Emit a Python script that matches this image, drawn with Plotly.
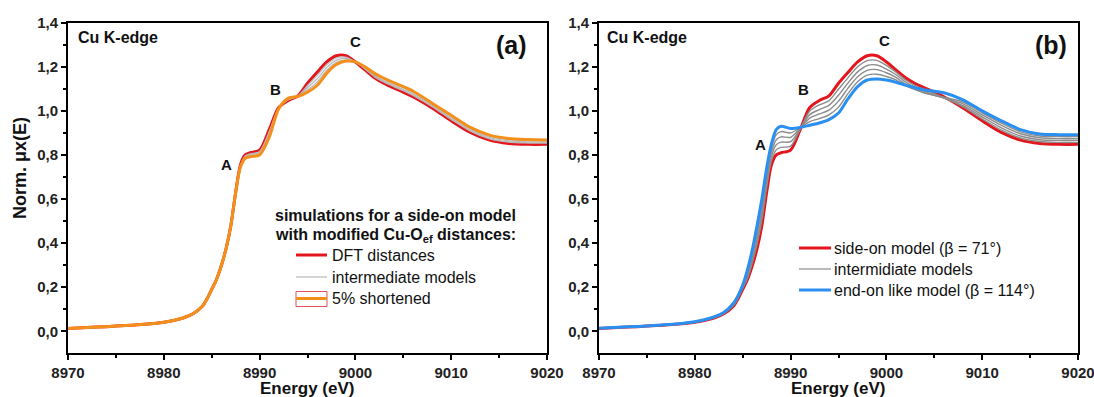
import plotly.graph_objects as go

# ---------------- data ----------------
energy = [8970, 8972, 8974, 8976, 8978, 8980, 8981, 8982, 8983, 8984, 8984.5, 8985,
          8985.5, 8986, 8986.5, 8987, 8987.5, 8988, 8988.5, 8989, 8990, 8991, 8992,
          8993, 8994, 8995, 8996, 8997, 8998, 8999, 9000, 9001, 9002, 9003, 9004, 9005, 9006,
          9008, 9010, 9012, 9014, 9016, 9018, 9020]

# side-on model, DFT distances (red)
side_on = [0.013, 0.017, 0.021, 0.026, 0.032, 0.041, 0.049, 0.060, 0.078, 0.112, 0.146, 0.190,
           0.235, 0.297, 0.375, 0.480, 0.630, 0.755, 0.800, 0.810, 0.822, 0.915, 1.015,
           1.047, 1.068, 1.125, 1.175, 1.222, 1.250, 1.250, 1.222, 1.186, 1.150, 1.124, 1.104,
           1.085, 1.064, 1.013, 0.955, 0.902, 0.867, 0.852, 0.848, 0.848]

# 5% shortened (orange)
shortened = [0.013, 0.017, 0.021, 0.026, 0.032, 0.041, 0.049, 0.060, 0.078, 0.112, 0.146, 0.190,
             0.235, 0.297, 0.375, 0.480, 0.630, 0.745, 0.785, 0.792, 0.800, 0.880, 1.010,
             1.058, 1.065, 1.085, 1.115, 1.170, 1.210, 1.226, 1.222, 1.200, 1.170, 1.148, 1.128,
             1.110, 1.090, 1.035, 0.980, 0.925, 0.890, 0.875, 0.870, 0.868]

# intermediate models, panel (a)
inter_a1 = [0.013, 0.017, 0.021, 0.026, 0.032, 0.041, 0.049, 0.060, 0.078, 0.112, 0.146, 0.190,
            0.235, 0.297, 0.375, 0.480, 0.630, 0.752, 0.796, 0.805, 0.816, 0.906, 1.014,
            1.050, 1.067, 1.115, 1.160, 1.209, 1.240, 1.244, 1.222, 1.190, 1.154, 1.130, 1.110,
            1.091, 1.070, 1.019, 0.961, 0.908, 0.873, 0.858, 0.854, 0.853]
inter_a2 = [0.013, 0.017, 0.021, 0.026, 0.032, 0.041, 0.049, 0.060, 0.078, 0.112, 0.146, 0.190,
            0.235, 0.297, 0.375, 0.480, 0.630, 0.750, 0.792, 0.801, 0.811, 0.897, 1.012,
            1.052, 1.066, 1.105, 1.145, 1.196, 1.230, 1.238, 1.222, 1.193, 1.159, 1.136, 1.116,
            1.097, 1.077, 1.024, 0.968, 0.914, 0.879, 0.864, 0.859, 0.858]
inter_a3 = [0.013, 0.017, 0.021, 0.026, 0.032, 0.041, 0.049, 0.060, 0.078, 0.112, 0.146, 0.190,
            0.235, 0.297, 0.375, 0.480, 0.630, 0.747, 0.789, 0.796, 0.805, 0.889, 1.011,
            1.055, 1.066, 1.095, 1.130, 1.183, 1.220, 1.232, 1.222, 1.197, 1.165, 1.142, 1.122,
            1.104, 1.083, 1.030, 0.974, 0.919, 0.884, 0.869, 0.865, 0.863]

# end-on like model (blue)
end_on = [0.014, 0.018, 0.022, 0.027, 0.033, 0.043, 0.052, 0.065, 0.085, 0.125, 0.160, 0.210,
          0.280, 0.370, 0.480, 0.600, 0.740, 0.850, 0.915, 0.930, 0.920, 0.925, 0.935,
          0.945, 0.960, 0.990, 1.055, 1.110, 1.140, 1.145, 1.140, 1.130, 1.117, 1.105, 1.095,
          1.089, 1.082, 1.050, 1.000, 0.955, 0.915, 0.895, 0.892, 0.892]

# intermediate models, panel (b)
inter_b1 = [0.013, 0.017, 0.021, 0.026, 0.032, 0.041, 0.050, 0.061, 0.079, 0.115, 0.149, 0.194,
            0.240, 0.310, 0.396, 0.504, 0.652, 0.774, 0.823, 0.834, 0.840, 0.917, 0.999,
            1.027, 1.046, 1.098, 1.151, 1.200, 1.228, 1.229, 1.206, 1.175, 1.140, 1.115, 1.095,
            1.078, 1.060, 1.018, 0.964, 0.913, 0.877, 0.861, 0.857, 0.857]
inter_b2 = [0.013, 0.017, 0.021, 0.026, 0.032, 0.042, 0.050, 0.062, 0.081, 0.117, 0.152, 0.198,
            0.250, 0.326, 0.417, 0.528, 0.674, 0.793, 0.846, 0.858, 0.860, 0.919, 0.983,
            1.006, 1.025, 1.071, 1.127, 1.177, 1.206, 1.208, 1.189, 1.164, 1.130, 1.107, 1.088,
            1.072, 1.058, 1.024, 0.973, 0.923, 0.886, 0.869, 0.866, 0.866]
inter_b3 = [0.014, 0.018, 0.022, 0.027, 0.033, 0.042, 0.051, 0.063, 0.082, 0.120, 0.154, 0.202,
            0.260, 0.340, 0.438, 0.552, 0.696, 0.812, 0.869, 0.882, 0.880, 0.921, 0.967,
            0.986, 1.003, 1.044, 1.103, 1.155, 1.184, 1.187, 1.173, 1.152, 1.120, 1.100, 1.083,
            1.070, 1.058, 1.032, 0.982, 0.934, 0.896, 0.878, 0.874, 0.874]
inter_b4 = [0.014, 0.018, 0.022, 0.027, 0.033, 0.043, 0.052, 0.064, 0.084, 0.122, 0.157, 0.206,
            0.270, 0.355, 0.459, 0.576, 0.718, 0.831, 0.892, 0.906, 0.900, 0.923, 0.951,
            0.965, 0.982, 1.017, 1.079, 1.132, 1.162, 1.166, 1.156, 1.141, 1.115, 1.096, 1.080,
            1.071, 1.062, 1.040, 0.991, 0.944, 0.905, 0.886, 0.883, 0.883]

x_tick_vals = [8970, 8980, 8990, 9000, 9010, 9020]
x_tick_text = ["8970", "8980", "8990", "9000", "9010", "9020"]
y_tick_vals = [0.0, 0.2, 0.4, 0.6, 0.8, 1.0, 1.2, 1.4]
y_tick_text = ["0,0", "0,2", "0,4", "0,6", "0,8", "1,0", "1,2", "1,4"]
x_minor = [8975, 8985, 8995, 9005, 9015]
y_minor = [0.1, 0.3, 0.5, 0.7, 0.9, 1.1, 1.3]

# ---------------- styling ----------------
W, H = 1094, 397
FONT = "Liberation Sans, Arial, sans-serif"
RED = "#e3161d"
ORANGE = "#f3901c"
BLUE = "#2a8ff0"
GRAY_A = "#b8b8b8"
GRAY_B = "#8c8c8c"


def px(x):
    return x / W


def py(y):
    return 1 - y / H


fig = go.Figure()


def add(x, y, color, width, xa, ya):
    fig.add_trace(go.Scatter(x=x, y=y, mode="lines", xaxis=xa, yaxis=ya,
                             line=dict(color=color, width=width, shape="spline", smoothing=0.8),
                             showlegend=False, hoverinfo="skip"))


# panel (a)
add(energy, side_on, RED, 3, "x", "y")
for g in (inter_a1, inter_a2, inter_a3):
    add(energy, g, GRAY_A, 1.2, "x", "y")
add(energy, shortened, ORANGE, 3, "x", "y")

# panel (b)
add(energy, side_on, RED, 3, "x2", "y2")
for g in (inter_b1, inter_b2, inter_b3, inter_b4):
    add(energy, g, GRAY_B, 1.4, "x2", "y2")
add(energy, end_on, BLUE, 3, "x2", "y2")

tickfont = dict(family=FONT, size=15, color="#222", weight="bold")


def xaxis(domain, anchor):
    return dict(domain=domain, anchor=anchor, range=[8970, 9020], tickmode="array",
                tickvals=x_tick_vals, ticktext=x_tick_text, ticks="outside", ticklen=5,
                tickwidth=2, tickcolor="black", showline=True, linewidth=2, linecolor="black",
                mirror=True, showgrid=False, zeroline=False, tickfont=tickfont,
                ticklabeloverflow="allow",
                minor=dict(tickmode="array", tickvals=x_minor, ticks="outside", ticklen=3,
                           tickwidth=2, tickcolor="black", showgrid=False),
                automargin=False)


def yaxis(anchor):
    return dict(domain=[(H - 353.3) / H, (H - 22.7) / H], anchor=anchor, range=[-0.1, 1.4],
                tickmode="array", tickvals=y_tick_vals, ticktext=y_tick_text, ticks="outside",
                ticklen=5, tickwidth=2, tickcolor="black", showline=True, linewidth=2,
                linecolor="black", mirror=True, showgrid=False, zeroline=False, tickfont=tickfont,
                ticklabeloverflow="allow",
                minor=dict(tickmode="array", tickvals=y_minor, ticks="outside", ticklen=3,
                           tickwidth=2, tickcolor="black", showgrid=False),
                automargin=False)


ann = []


def text(x, y, t, size, bold=False, xanchor="center", yanchor="middle", xref="paper",
         yref="paper", angle=0):
    ann.append(dict(x=x, y=y, xref=xref, yref=yref, text=("<b>%s</b>" % t) if bold else t,
                    showarrow=False, xanchor=xanchor, yanchor=yanchor, textangle=angle,
                    font=dict(family=FONT, size=size, color="#111")))


# axis titles
text(px(20), py(168), "Norm. μx(E)", 18, bold=True, angle=-90)
text(px(307), py(388), "Energy (eV)", 17, bold=True)
text(px(838), py(388), "Energy (eV)", 17, bold=True)

# panel labels
text(px(76), py(37), "Cu K-edge", 16, bold=True, xanchor="left")
text(px(605), py(37), "Cu K-edge", 16, bold=True, xanchor="left")
text(px(511), py(45), "(a)", 25, bold=True)
text(px(1051), py(45), "(b)", 25, bold=True)

# feature labels
text(px(226), py(164), "A", 15, bold=True)
text(px(275), py(89), "B", 15, bold=True)
text(px(355), py(42), "C", 15, bold=True)
text(px(760), py(144), "A", 15, bold=True)
text(px(803), py(89), "B", 15, bold=True)
text(px(884), py(40), "C", 15, bold=True)

# legend (a)
text(px(273), py(215), "simulations for a side-on model", 16, bold=True, xanchor="left")
text(px(273), py(236), "with modified Cu-O<sub>ef</sub> distances:", 16, bold=True, xanchor="left")
text(px(330), py(255), "DFT distances", 16, xanchor="left")
text(px(330), py(277), "intermediate models", 16, xanchor="left")
text(px(330), py(298), "5% shortened", 16, xanchor="left")

# legend (b)
text(px(832), py(248), "side-on model (β = 71°)", 16, xanchor="left")
text(px(832), py(269), "intermidiate models", 16, xanchor="left")
text(px(832), py(290), "end-on like model (β = 114°)", 16, xanchor="left")

shapes = []


def seg(x0, x1, y, color, width):
    shapes.append(dict(type="line", xref="paper", yref="paper", x0=px(x0), x1=px(x1),
                       y0=py(y), y1=py(y), line=dict(color=color, width=width)))


seg(296, 327, 255, RED, 3)
seg(296, 327, 277, GRAY_A, 1.2)
shapes.append(dict(type="rect", xref="paper", yref="paper", x0=px(296), x1=px(327),
                   y0=py(291.5), y1=py(306.5), line=dict(color="#e0545a", width=1)))
seg(296, 327, 298.5, ORANGE, 3)

seg(799, 831, 248, RED, 3)
seg(799, 831, 269, GRAY_B, 1.2)
seg(799, 831, 290, BLUE, 3)

fig.update_layout(
    width=W, height=H,
    margin=dict(l=0, r=0, t=0, b=0),
    paper_bgcolor="white", plot_bgcolor="white",
    xaxis=xaxis([68 / W, 547 / W], "y"),
    yaxis=yaxis("x"),
    xaxis2=xaxis([599 / W, 1078 / W], "y2"),
    yaxis2=yaxis("x2"),
    annotations=ann,
    shapes=shapes,
    showlegend=False,
)

fig.write_html(
    "out.html",
    config={"displayModeBar": False},
    post_script="document.body.style.margin='0';document.body.style.overflow='hidden';",
)
